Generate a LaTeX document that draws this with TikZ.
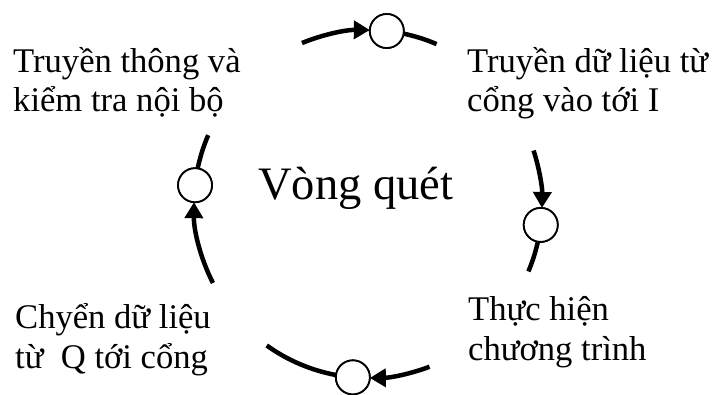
\documentclass[tikz,border=0pt]{standalone}
\usepackage{fontspec}
\setmainfont{Liberation Serif}
\usetikzlibrary{arrows.meta}
\begin{document}
\begin{tikzpicture}[x=1pt,y=1pt,
  flow/.style={line width=4.5pt},
  flowarrow/.style={flow,-{Triangle[length=16pt,width=18pt]}},
  station/.style={circle,draw,line width=1.8pt,fill=white,minimum size=34pt,inner sep=0pt},
  label/.style={anchor=base west,inner sep=0pt,align=left,font=\fontsize{34.6}{39.5}\selectfont},
  title/.style={anchor=base west,inner sep=0pt,font=\fontsize{46.5}{50}\selectfont}]
\useasboundingbox (0,0) rectangle (712,394);
\coordinate (O) at (368,190);

% stations on the scan ring
\node[station] (ctop)    at ([shift={(83.8:174)}]O) {};
\node[station] (cright)  at ([shift={(-6.9:174)}]O) {};
\node[station] (cbottom) at ([shift={(-95:174)}]O) {};
\node[station] (cleft)   at ([shift={(173.8:174)}]O) {};

% arc end points
\coordinate (a1) at ([shift={(112.3:174)}]O);
\coordinate (a2) at ([shift={(78.2:174)}]O);
\coordinate (b1) at ([shift={(17.9:174)}]O);
\coordinate (b2) at ([shift={(-12.5:174)}]O);
\coordinate (d1) at ([shift={(-69.3:174)}]O);
\coordinate (d2) at ([shift={(-100.6:174)}]O);
\coordinate (e1) at ([shift={(207:174)}]O);
\coordinate (e2) at ([shift={(168.2:174)}]O);

% arcs going clockwise into each station, and short tails leaving it
\draw[flowarrow] (a1) arc[start angle=112.3, end angle=89.4, radius=174];
\draw[flow] (a2) arc[start angle=78.2, end angle=66.8, radius=174];
\draw[flowarrow] (b1) arc[start angle=17.9, end angle=-1.3, radius=174];
\draw[flow] (b2) arc[start angle=-12.5, end angle=-22.8, radius=174];
\draw[flowarrow] (d1) arc[start angle=-69.3, end angle=-89.4, radius=174];
\draw[flow] (d2) arc[start angle=-100.6, end angle=-125.6, radius=174];
\draw[flowarrow] (e1) arc[start angle=207, end angle=179.4, radius=174];
\draw[flow] (e2) arc[start angle=168.2, end angle=156.7, radius=174];

% redraw the stations above the arcs
\foreach \n in {ctop,cright,cbottom,cleft}
  \node[station] at (\n) {};

% captions (anchored on the baseline of their last line)
\node[title] (center) at (258,194) {Vòng quét};
\node[label] (ltl) at (13,282) {Truyền thông và\\kiểm tra nội bộ};
\node[label] (ltr) at (467,282) {Truyền dữ liệu từ\\cổng vào tới I};
\node[label] (lbl) at (15,26) {Chyển dữ liệu\\từ\ \ Q tới cổng};
\node[label] (lbr) at (468,34) {Thực hiện\\chương trình};
\end{tikzpicture}
\end{document}
